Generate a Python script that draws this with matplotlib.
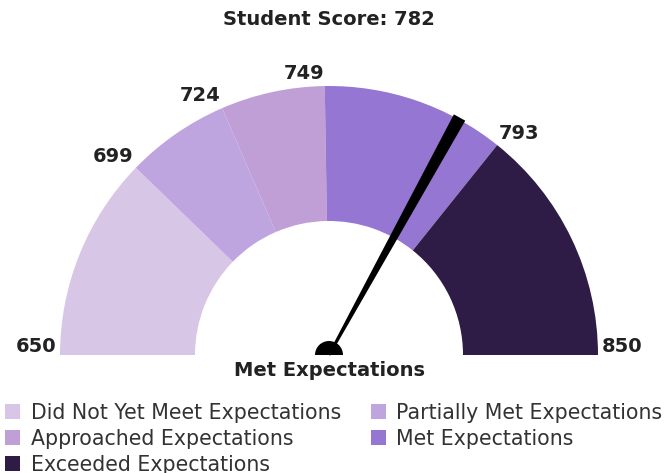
import numpy as np
import matplotlib
matplotlib.use("Agg")
import matplotlib.pyplot as plt
from matplotlib.patches import Wedge, Polygon, Patch

# ── data ─────────────────────────────────────────────────────────────────────
BOUNDS = [650, 699, 724, 749, 793, 850]
LEVELS = ["Did Not Yet Meet Expectations", "Partially Met Expectations",
          "Approached Expectations", "Met Expectations", "Exceeded Expectations"]
COLORS = ["#D7C6E6", "#BFA5DF", "#C09ED6", "#9576D2", "#2E1B46"]
SCORE = 782
SCORE_LEVEL = "Met Expectations"

# ── geometry (pixels, y up) ─────────────────────────────────────────────────
W, H = 667, 473
CX, CY = 329, 118
R_OUT, R_IN = 269, 134


def to_angle(v):
    return 180.0 - (v - BOUNDS[0]) / (BOUNDS[-1] - BOUNDS[0]) * 180.0


fig = plt.figure(figsize=(W / 100, H / 100), dpi=100)
ax = fig.add_axes([0, 0, 1, 1])
ax.set_xlim(0, W); ax.set_ylim(0, H)
ax.axis("off")

for lo, hi, c in zip(BOUNDS[:-1], BOUNDS[1:], COLORS):
    ax.add_patch(Wedge((CX, CY), R_OUT, to_angle(hi), to_angle(lo),
                       width=R_OUT - R_IN, facecolor=c, edgecolor="none"))

# boundary labels
lab_kw = dict(fontsize=14, fontweight="bold", color="#222222")
ax.text(CX - R_OUT - 4, CY - 1, str(BOUNDS[0]), ha="right", va="bottom", **lab_kw)
ax.text(CX + R_OUT + 4, CY - 1, str(BOUNDS[-1]), ha="left", va="bottom", **lab_kw)
for b in BOUNDS[1:-1]:
    a = np.radians(to_angle(b))
    x = CX + (R_OUT + 3) * np.cos(a)
    y = CY + (R_OUT + 3) * np.sin(a)
    ax.text(x, y, str(b), ha="right" if np.cos(a) < 0 else "left",
            va="bottom", **lab_kw)

# needle
a = np.radians(to_angle(SCORE))
d = np.array([np.cos(a), np.sin(a)]); p = np.array([-d[1], d[0]])
c0 = np.array([CX, CY]); tip = c0 + d * (R_OUT + 2)
ax.add_patch(Polygon([c0 + p * 1.3, tip + p * 6.5, tip - p * 6.5, c0 - p * 1.3],
                     closed=True, facecolor="black", edgecolor="none"))
ax.add_patch(Wedge((CX, CY), 14, 0, 180, facecolor="black", edgecolor="none"))

ax.text(CX, H - 20, f"Student Score: {SCORE}", ha="center", va="center",
        fontsize=14, fontweight="bold", color="#222222")
ax.text(CX, CY - 15, SCORE_LEVEL, ha="center", va="center",
        fontsize=14, fontweight="bold", color="#222222")

# legend: row-major order in two columns
order = [0, 2, 4, 1, 3]
handles = [Patch(facecolor=COLORS[i], edgecolor="none") for i in order]
ax.legend(handles, [LEVELS[i] for i in order], ncol=2, loc="lower left",
          bbox_to_anchor=(5 / W, -2 / H), frameon=False, fontsize=14.8,
          handlelength=0.75, handleheight=0.75, handletextpad=0.5,
          columnspacing=1.45, labelspacing=0.3, borderaxespad=0, borderpad=0,
          labelcolor="#333333")

fig.savefig("out.png", dpi=100)
